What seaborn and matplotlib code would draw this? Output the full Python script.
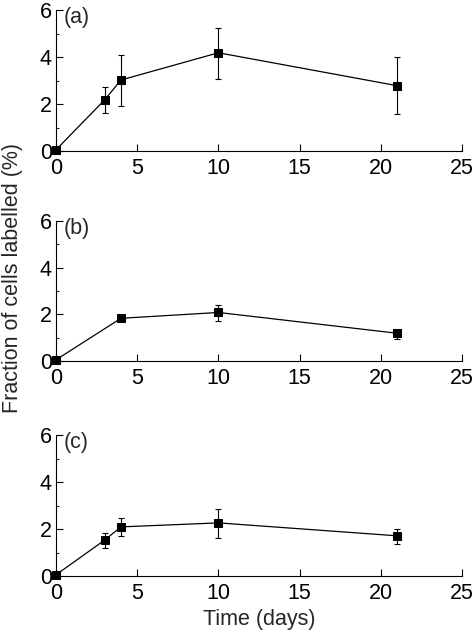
import matplotlib
matplotlib.use("Agg")
import matplotlib.pyplot as plt
import seaborn as sns
import pandas as pd
from matplotlib.ticker import MultipleLocator

# Dados (média e limites das barras de erro)
days_a = [0, 3, 4, 10, 21]
mean_a = [0.05, 2.18, 3.02, 4.18, 2.78]
low_a = [0.0, 1.60, 1.92, 3.08, 1.57]
high_a = [0.10, 2.73, 4.08, 5.22, 4.00]

days_b = [0, 4, 10, 21]
mean_b = [0.05, 1.83, 2.08, 1.19]
low_b = [0.0, 1.76, 1.73, 0.95]
high_b = [0.10, 1.90, 2.40, 1.35]

days_c = [0, 3, 4, 10, 21]
mean_c = [0.05, 1.53, 2.09, 2.26, 1.71]
low_c = [0.0, 1.20, 1.70, 1.60, 1.37]
high_c = [0.10, 1.82, 2.46, 2.85, 2.00]

panel_labels = ["(a)", "(b)", "(c)"]
x_ticks = [0, 5, 10, 15, 20, 25]
y_ticks = [0, 2, 4, 6]

sns.set_style("ticks")
plt.rcParams['font.family'] = ['Liberation Sans', 'DejaVu Sans']
FS = 15.5

W, H = 477, 633
fig = plt.figure(figsize=(W / 100, H / 100), dpi=100)

# posições dos eixos em pixels (topo, base)
boxes = [(10, 151), (221, 361), (435, 576)]
x0, x1 = 56, 462

series = [
    (days_a, mean_a, low_a, high_a),
    (days_b, mean_b, low_b, high_b),
    (days_c, mean_c, low_c, high_c),
]

for i, ((top, bot), (dd, mm, lo, hi)) in enumerate(zip(boxes, series)):
    ax = fig.add_axes([x0 / W, 1 - bot / H, (x1 - x0) / W, (bot - top) / H])
    df = pd.DataFrame({"dia": dd, "media": mm})
    err_lo = [m - l for m, l in zip(mm, lo)]
    err_hi = [h - m for m, h in zip(mm, hi)]
    ax.errorbar(dd, mm, yerr=[err_lo, err_hi], fmt='none', ecolor='black',
                elinewidth=0.8, capsize=2.5, capthick=0.8, clip_on=False, zorder=2)
    sns.lineplot(data=df, x="dia", y="media", ax=ax, color='black', marker='s',
                 markersize=6, markeredgecolor='black', linewidth=0.9,
                 clip_on=False, zorder=3)
    ax.set_xlim(0, 25)
    ax.set_ylim(0, 6)
    ax.set_xticks(x_ticks)
    ax.set_yticks(y_ticks)
    ax.yaxis.set_minor_locator(MultipleLocator(1))
    ax.tick_params(axis='both', which='major', direction='in', length=5,
                   width=0.8, labelsize=FS, colors='black')
    ax.tick_params(axis='x', which='major', pad=5)
    ax.tick_params(axis='y', which='major', pad=3)
    ax.tick_params(axis='y', which='minor', direction='in', length=2.5, width=0.8)
    sns.despine(ax=ax)
    for s in ['left', 'bottom']:
        ax.spines[s].set_linewidth(0.8)
        ax.spines[s].set_color('black')
    ax.set_xlabel("")
    ax.set_ylabel("")
    ax.text(0.018, 1.02, panel_labels[i], transform=ax.transAxes, fontsize=FS,
            va='top', ha='left')
    if i == 2:
        ax.set_xlabel("Time (days)", fontsize=FS, labelpad=4)

fig.text(13 / W, 1 - 278 / H, "Fraction of cells labelled (%)", rotation=90,
         fontsize=FS, va='center', ha='center')

fig.savefig("out.png", dpi=100)
